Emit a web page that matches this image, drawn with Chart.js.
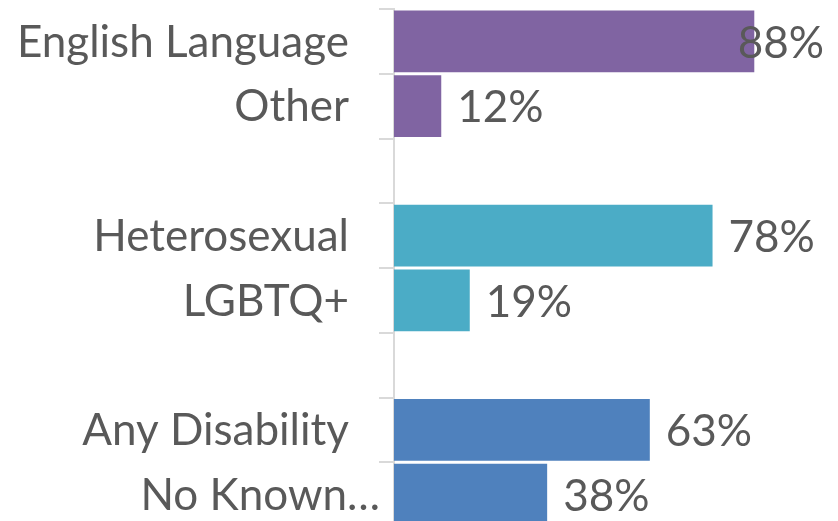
<!DOCTYPE html>
<html>
<head>
<meta charset="utf-8">
<script src="https://cdn.jsdelivr.net/npm/chart.js@4"></script>
<style>
  html, body { margin: 0; padding: 0; background: #fff; overflow: hidden; }
  #chart { display: block; }
</style>
</head>
<body>
<canvas id="chart" width="838" height="540"></canvas>
<script>
// Data (blank entries are the spacer rows between groups)
const categories = ['English Language', 'Other', '', 'Heterosexual', 'LGBTQ+', '', 'Any Disability', 'No Known…'];
const values = [88.45, 11.6, null, 78.2, 18.6, null, 62.8, 37.6];
const barColors = ['#8064A2', '#8064A2', null, '#4BACC6', '#4BACC6', null, '#4F81BD', '#4F81BD'];

const TEXT = '#595959';
const FONT = '44px Lato';

// draw category names and % labels ourselves
const labelPlugin = {
  id: 'labels',
  afterDatasetsDraw(chart) {
    const { ctx, scales } = chart;
    ctx.save();
    ctx.font = FONT;
    ctx.fillStyle = TEXT;
    ctx.textBaseline = 'middle';

    // category names on the left
    ctx.textAlign = 'right';
    categories.forEach((c, i) => {
      if (!c) return;
      const y = scales.y.getPixelForValue(i);
      const right = c.endsWith('…') ? 380 : 349;
      ctx.fillText(c, right, y + 1);
    });

    // value labels
    ctx.textAlign = 'left';
    const meta = chart.getDatasetMeta(0);
    meta.data.forEach((bar, i) => {
      const v = values[i];
      if (v == null) return;
      const txt = Math.round(v) + '%';
      const w = ctx.measureText(txt).width;
      let x = bar.x + 16;
      if (x + w > chart.width - 14) x = chart.width - 14 - w;
      ctx.fillText(txt, x, bar.y + 2);
    });
    ctx.restore();
  }
};

new Chart(document.getElementById('chart'), {
  type: 'bar',
  data: {
    labels: categories,
    datasets: [{
      data: values,
      backgroundColor: barColors,
      barPercentage: 0.95,
      categoryPercentage: 1
    }]
  },
  options: {
    indexAxis: 'y',
    responsive: false,
    animation: false,
    layout: { padding: { top: 9, bottom: 13, right: 0 } },
    plugins: { legend: { display: false }, tooltip: { enabled: false } },
    scales: {
      x: { display: false, min: 0, max: 109 },
      y: {
        afterFit(scale) { scale.width = 394; },
        ticks: { display: false },
        grid: {
          drawOnChartArea: false,
          tickLength: 15,
          color: '#d9d9d9',
          lineWidth: 2
        },
        border: { color: '#d9d9d9', width: 2 }
      }
    }
  },
  plugins: [labelPlugin]
});
</script>
</body>
</html>
